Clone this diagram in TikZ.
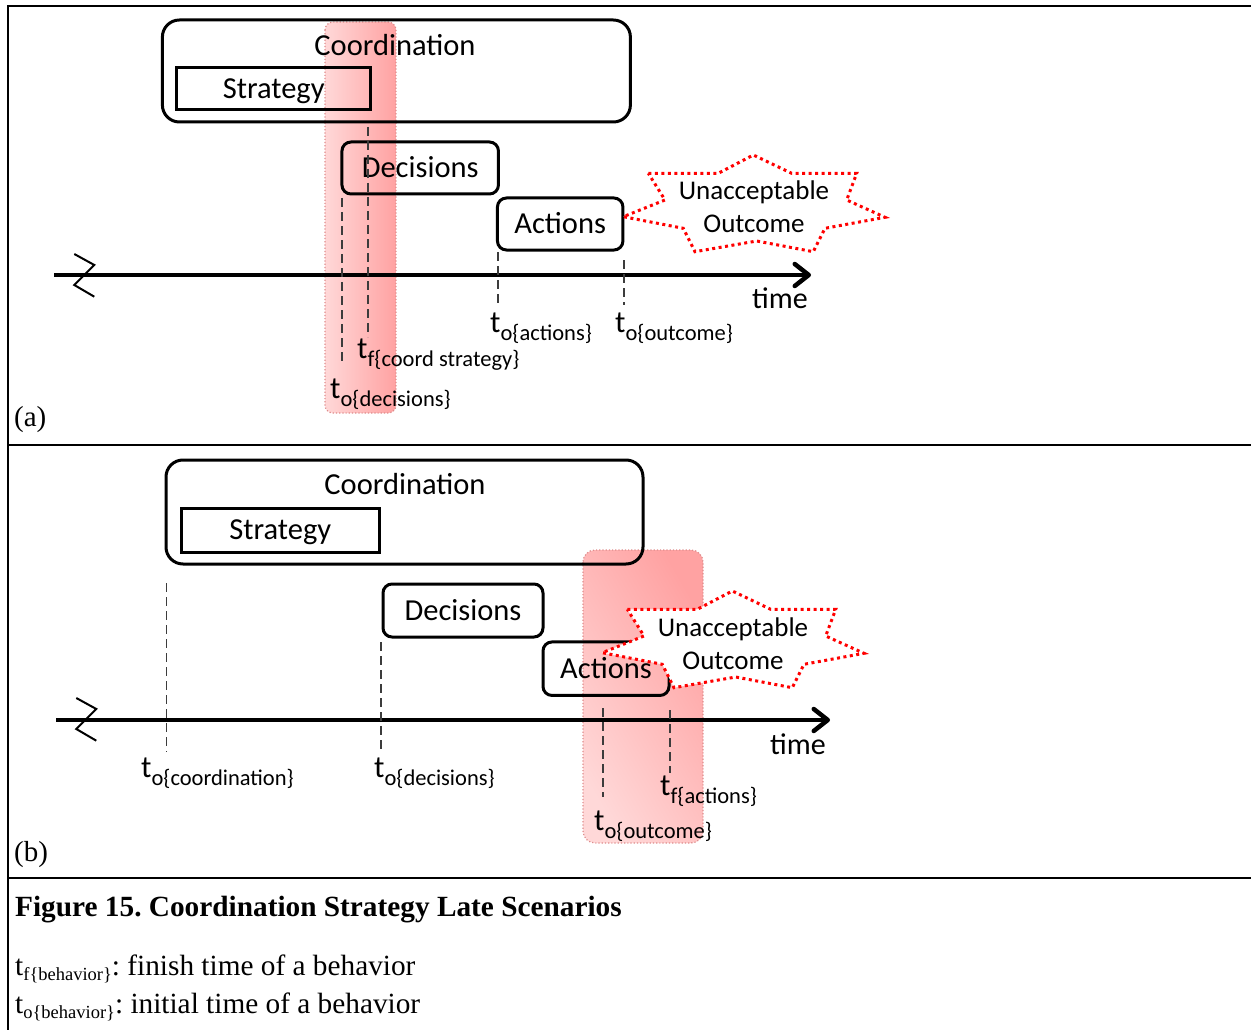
\documentclass[tikz,border=0pt]{standalone}
\usepackage{fontspec}
\setmainfont{Carlito}
\newfontfamily\capfont{Liberation Serif}
\usetikzlibrary{arrows.meta}
\frenchspacing

% subscripted time label: t_{kind{behaviour}}
\newcommand{\timelbl}[2]{{\fontsize{31}{31}\selectfont t}\raisebox{-8pt}{\fontsize{22.5}{22.5}\selectfont #1\{#2\}}}
\newcommand{\legendlbl}[1]{t\raisebox{-5pt}{\fontsize{18.5}{18.5}\selectfont #1\{behavior\}}}

\definecolor{latelight}{RGB}{255,216,216}
\definecolor{latedark}{RGB}{255,162,162}
\definecolor{lateedge}{RGB}{222,140,140}
\definecolor{tickgray}{RGB}{60,60,60}

\tikzset{
  frameline/.style={line width=2pt},
  box/.style={draw, line width=3pt, rounded corners=9pt, inner sep=0pt,
    text height=19.5pt, text depth=0pt, font=\fontsize{30.5}{30.5}\selectfont},
  sqbox/.style={box, rounded corners=0pt},
  bigbox/.style={draw, line width=3pt, rounded corners=17pt, inner sep=0pt},
  boxtext/.style={inner sep=0pt, text height=19.5pt, text depth=0pt,
    font=\fontsize{30.5}{30.5}\selectfont},
  tickline/.style={draw=tickgray, line width=1.3pt, dash pattern=on 9pt off 5pt},
  timeaxis/.style={line width=4.5pt,
    -{Straight Barb[length=14pt,width=22pt,line join=round,line cap=round]}},
  breakmark/.style={line width=2pt},
  lateband/.style={left color=latelight, right color=latedark,
    draw=lateedge, line width=1.2pt, dash pattern=on 1.2pt off 2pt},
  starline/.style={draw=red, fill=white, line width=3pt, dash pattern=on 3pt off 3.5pt},
  startext/.style={inner sep=0pt, anchor=base, font=\fontsize{27}{27}\selectfont},
  tlabel/.style={inner sep=0pt, anchor=base west},
  axislabel/.style={inner sep=0pt, font=\fontsize{30}{30}\selectfont},
  panel/.style={inner sep=0pt, anchor=base west, font=\capfont\fontsize{29}{29}\selectfont},
  legend/.style={inner sep=0pt, anchor=base west, font=\capfont\fontsize{29.3}{29.3}\selectfont},
  unaccept/.pic={
    \draw[starline] (648.3,173.3) -- (718.3,173.3) -- (753.3,155) -- (791.7,173.3)
      -- (856.7,173.3) -- (846.7,200) -- (885,217.3) -- (825,228.3) -- (813.3,251.7)
      -- (756.7,241) -- (695,251.7) -- (683.3,228.3) -- (623.3,216.7) -- (665,200) -- cycle;
    \node[startext] (l1) at (754,200) {Unacceptable};
    \node[startext] (l2) at (754,233) {Outcome};
  },
  breakzig/.pic={
    \draw[breakmark] (74.3,254) -- (94.3,265) -- (74.3,285) -- (94.3,296.7);
  }
}

\begin{document}
\begin{tikzpicture}[x=1pt,y=-1pt]
\useasboundingbox (0,0) rectangle (1251,1030);

% outer frame and panel separators
\draw[frameline] (1251,6) -- (8,6) -- (8,1030);
\draw[frameline] (8,445) -- (1251,445);
\draw[frameline] (8,878) -- (1251,878);

% ---------------- panel (a) ----------------
\path[lateband, rounded corners=8pt] (325,22) rectangle (396,413);

\node[bigbox, minimum width=468pt, minimum height=102pt] (coordA) at (396.4,71) {};
\node[boxtext] (coordAt) at (395,45.5) {Coordination};
\node[sqbox, minimum width=193.5pt, minimum height=42pt] (stratA) at (273.7,89) {Strategy};
\node[box, minimum width=156.5pt, minimum height=52pt] (decA) at (420.2,168) {Decisions};
\node[box, minimum width=125.5pt, minimum height=52pt] (actA) at (560.2,224) {Actions};

\coordinate (axAs) at (54,275);
\coordinate (axAe) at (811,275);
\draw[timeaxis] (axAs) -- (axAe);
\pic at (0,0) {breakzig};
\node[axislabel] (timeA) at (780,298) {time};

\coordinate (dA1s) at (342,198);  \coordinate (dA1e) at (342,363);
\coordinate (dA2s) at (368,127);  \coordinate (dA2e) at (368,337);
\coordinate (dA3s) at (498,252);  \coordinate (dA3e) at (498,303);
\coordinate (dA4s) at (624,260);  \coordinate (dA4e) at (624,305);
\draw[tickline] (dA1s) -- (dA1e);
\draw[tickline] (dA2s) -- (dA2e);
\draw[tickline] (dA3s) -- (dA3e);
\draw[tickline] (dA4s) -- (dA4e);

\node[tlabel] (tAact) at (490,332) {\timelbl{o}{actions}};
\node[tlabel] (tAout) at (615,332) {\timelbl{o}{outcome}};
\node[tlabel] (tAfcs) at (357,358) {\timelbl{f}{coord strategy}};
\node[tlabel] (tAdec) at (330,398) {\timelbl{o}{decisions}};

\pic (sa) at (0,0) {unaccept};

\node[panel] (pa) at (14,426) {(a)};

% ---------------- panel (b) ----------------
\path[lateband, shading angle=120, rounded corners=12pt] (583,550) rectangle (703,843);

\node[bigbox, minimum width=477pt, minimum height=104pt] (coordB) at (404.5,512) {};
\node[boxtext] (coordBt) at (405,485) {Coordination};
\node[sqbox, minimum width=198.6pt, minimum height=44pt] (stratB) at (280.3,530) {Strategy};
\node[box, minimum width=160pt, minimum height=53pt] (decB) at (463,610.5) {Decisions};
\node[box, minimum width=126pt, minimum height=53.5pt] (actB) at (606,668.7) {Actions};

\coordinate (axBs) at (56,720);
\coordinate (axBe) at (830,720);
\draw[timeaxis] (axBs) -- (axBe);
\pic at (2,444) {breakzig};
\node[axislabel] (timeB) at (798,744) {time};

\coordinate (dB1s) at (166.5,583); \coordinate (dB1e) at (166.5,752);
\coordinate (dB2s) at (381,642);   \coordinate (dB2e) at (381,752);
\coordinate (dB3s) at (603,708);   \coordinate (dB3e) at (603,797);
\coordinate (dB4s) at (670,710);   \coordinate (dB4e) at (670,773);
\draw[tickline] (dB1s) -- (dB1e);
\draw[tickline] (dB2s) -- (dB2e);
\draw[tickline] (dB3s) -- (dB3e);
\draw[tickline] (dB4s) -- (dB4e);

\node[tlabel] (tBcoo) at (141,777) {\timelbl{o}{coordination}};
\node[tlabel] (tBdec) at (374,777) {\timelbl{o}{decisions}};
\node[tlabel] (tBfac) at (660,795) {\timelbl{f}{actions}};
\node[tlabel] (tBout) at (594,830) {\timelbl{o}{outcome}};

\pic (sb) at (-21,436) {unaccept};

\node[panel] (pb) at (14,861) {(b)};

% ---------------- caption and legend ----------------
\node[legend, font=\capfont\bfseries\fontsize{29.3}{29.3}\selectfont] (cap) at (15,916)
  {Figure 15. Coordination Strategy Late Scenarios};
\node[legend] (lg1) at (15,975) {\legendlbl{f}: finish time of a behavior};
\node[legend] (lg2) at (15,1013) {\legendlbl{o}: initial time of a behavior};
\end{tikzpicture}
\end{document}
